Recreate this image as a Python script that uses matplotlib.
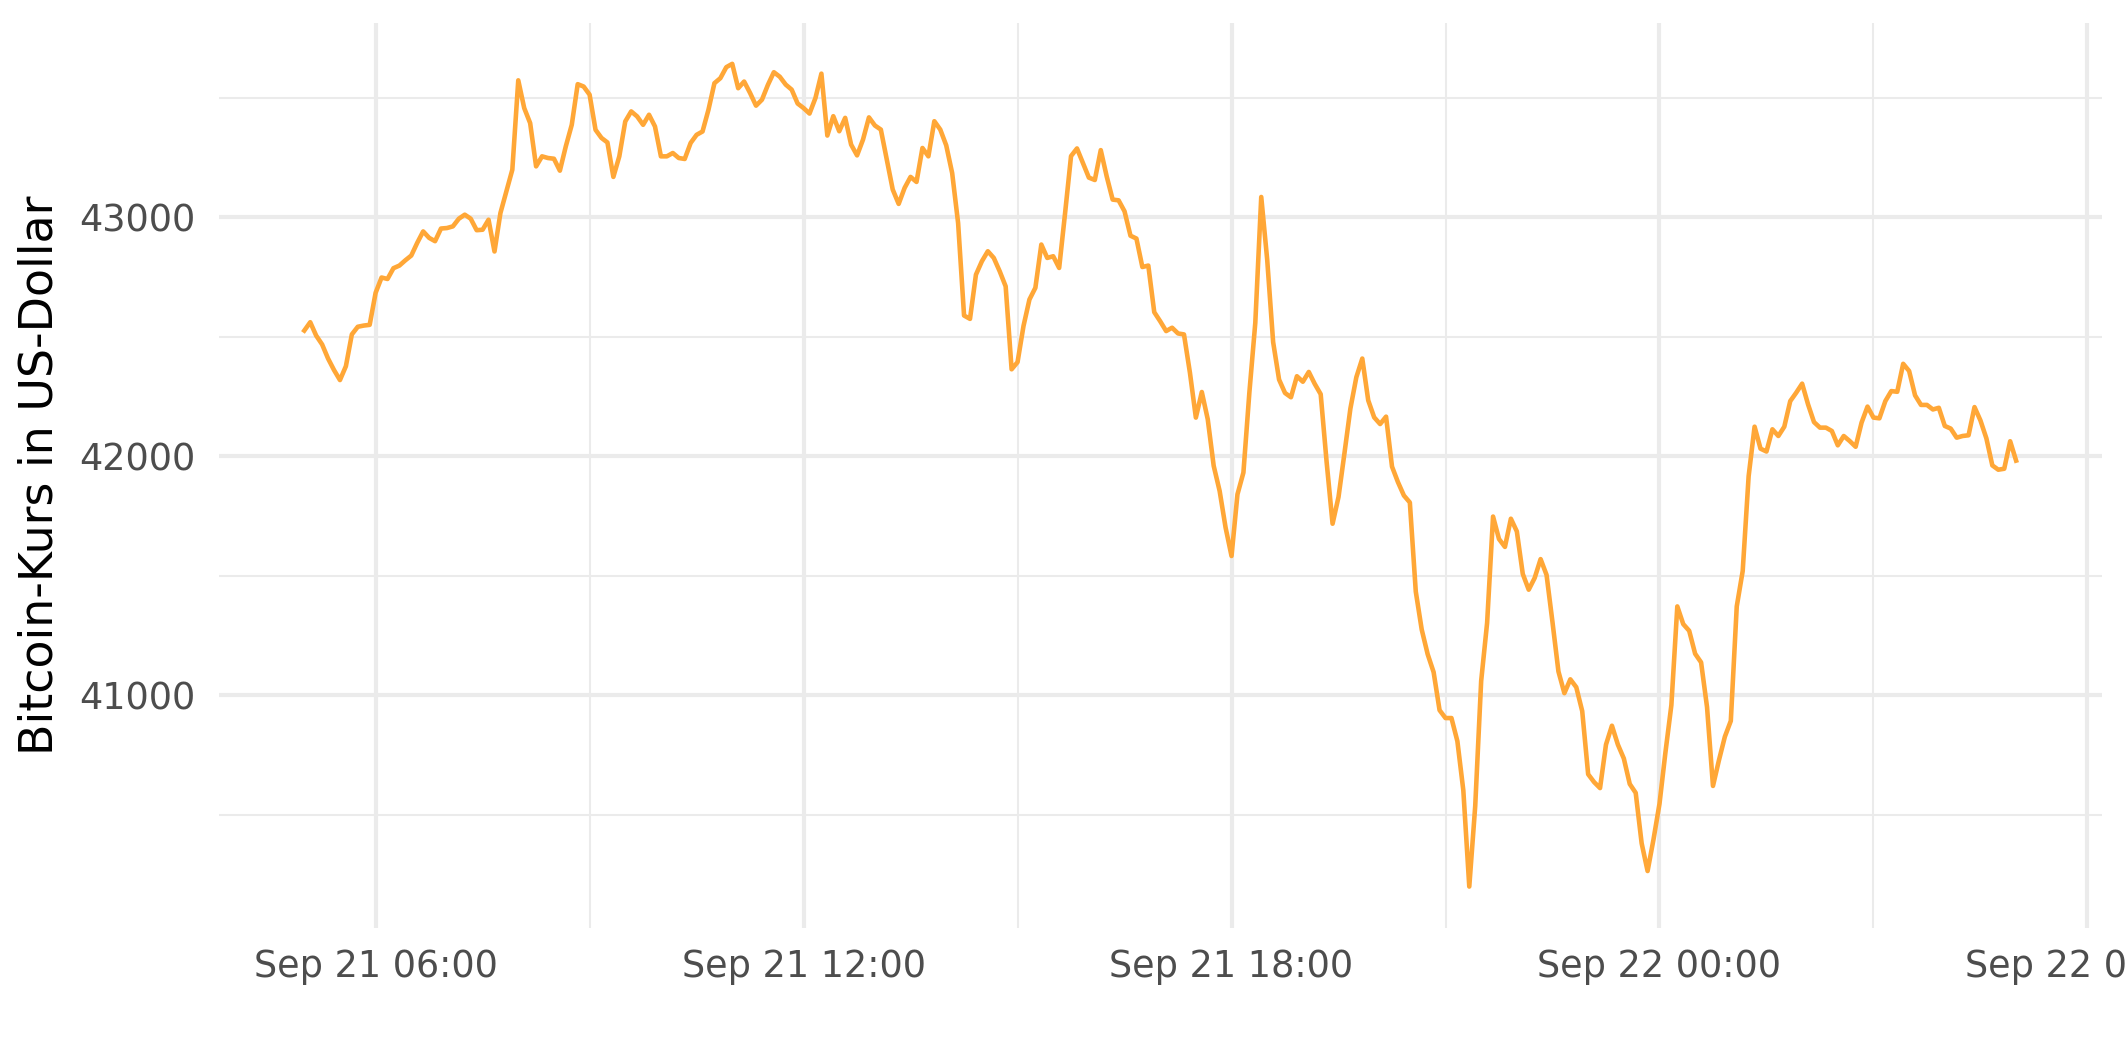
import pandas as pd
import matplotlib.pyplot as plt
import matplotlib.dates as mdates
from matplotlib.ticker import MultipleLocator, StrMethodFormatter

# Zeitachse: 5-Minuten-Werte ab 21.09. 05:00
startzeit = '2021-09-21 05:00'
intervall = '5min'

# Bitcoin-Kurs in US-Dollar
kurs = [
    42526, 42561, 42505, 42468, 42409, 42361, 42319, 42377, 42510, 42542, 42547, 42550,
    42684, 42748, 42742, 42787, 42798, 42820, 42840, 42893, 42941, 42914, 42900, 42953,
    42955, 42962, 42994, 43011, 42994, 42946, 42948, 42990, 42857, 43018, 43109, 43199,
    43573, 43457, 43394, 43213, 43255, 43248, 43245, 43195, 43297, 43387, 43557, 43547,
    43513, 43366, 43332, 43313, 43169, 43255, 43401, 43443, 43422, 43387, 43429, 43380,
    43255, 43255, 43269, 43248, 43244, 43311, 43345, 43359, 43450, 43561, 43582, 43628,
    43642, 43540, 43568, 43520, 43467, 43492, 43554, 43607, 43588, 43555, 43534, 43476,
    43457, 43434, 43499, 43601, 43342, 43423, 43360, 43416, 43304, 43259, 43325, 43418,
    43384, 43367, 43241, 43116, 43056, 43123, 43169, 43148, 43290, 43255, 43402, 43367,
    43301, 43185, 42976, 42589, 42575, 42760, 42816, 42858, 42830, 42774, 42711, 42364,
    42394, 42545, 42656, 42705, 42886, 42830, 42837, 42788, 43018, 43256, 43288, 43227,
    43166, 43156, 43281, 43171, 43074, 43071, 43025, 42923, 42911, 42792, 42798, 42603,
    42565, 42524, 42538, 42514, 42510, 42350, 42162, 42269, 42155, 41960, 41855, 41702,
    41583, 41841, 41932, 42266, 42559, 43085, 42823, 42478, 42321, 42265, 42247, 42335,
    42312, 42353, 42303, 42260, 41976, 41718, 41830, 42013, 42200, 42331, 42409, 42234,
    42163, 42135, 42166, 41957, 41892, 41836, 41807, 41434, 41275, 41172, 41097, 40938,
    40905, 40905, 40808, 40602, 40200, 40537, 41060, 41303, 41748, 41654, 41621, 41739,
    41686, 41508, 41442, 41491, 41570, 41504, 41306, 41100, 41009, 41067, 41034, 40934,
    40670, 40637, 40612, 40794, 40873, 40794, 40736, 40629, 40592, 40381, 40265, 40398,
    40546, 40761, 40959, 41372, 41298, 41270, 41174, 41138, 40951, 40621, 40728, 40827,
    40893, 41372, 41520, 41917, 42124, 42032, 42020, 42113, 42085, 42124, 42231, 42266,
    42304, 42217, 42143, 42120, 42120, 42106, 42046, 42085, 42064, 42040, 42141, 42208,
    42162, 42159, 42231, 42273, 42270, 42387, 42357, 42255, 42215, 42215, 42196, 42203,
    42127, 42116, 42078, 42085, 42088, 42206, 42150, 42075, 41962, 41944, 41948, 42063,
    41982,
]

zeit = pd.date_range(startzeit, periods=len(kurs), freq=intervall)

fig = plt.figure(figsize=(2125 / 300, 1062 / 300), dpi=300)
ax = fig.add_axes([218.7 / 2125, 1 - 927.7 / 1062, 1883 / 2125, 905 / 1062])

ax.plot(zeit, kurs, color='#FFA737', linewidth=1.1)

# Achsen im Stil von theme_minimal
ax.margins(x=0.05, y=0.05)
ax.xaxis.set_major_locator(mdates.HourLocator(byhour=[0, 6, 12, 18]))
ax.xaxis.set_minor_locator(mdates.HourLocator(byhour=[3, 9, 15, 21]))
ax.xaxis.set_major_formatter(mdates.DateFormatter('%b %d %H:%M'))
ax.yaxis.set_major_locator(MultipleLocator(1000))
ax.yaxis.set_minor_locator(MultipleLocator(500))
ax.yaxis.set_major_formatter(StrMethodFormatter('{x:.0f}'))

ax.grid(which='major', color='#EBEBEB', linewidth=1.0)
ax.grid(which='minor', color='#EBEBEB', linewidth=0.5)
ax.set_axisbelow(True)
for s in ax.spines.values():
    s.set_visible(False)
ax.tick_params(which='both', length=0)
ax.tick_params(axis='x', labelsize=8.8, labelcolor='#4D4D4D', pad=4.9)
ax.tick_params(axis='y', labelsize=8.8, labelcolor='#4D4D4D', pad=5.5)

ax.set_ylabel('Bitcoin-Kurs in US-Dollar', fontsize=11, color='black', va='center')
ax.yaxis.set_label_coords(-(218.7 - 40.5) / 1883, 0.5)

fig.savefig('out.png', dpi=300)
